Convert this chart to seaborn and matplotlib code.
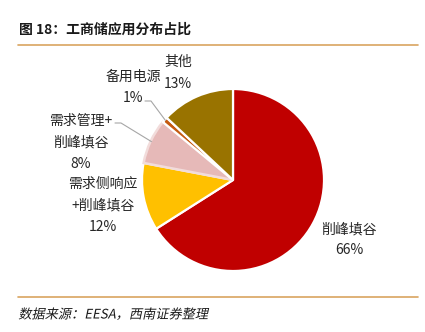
import numpy as np
import matplotlib
matplotlib.use("Agg")
import matplotlib.pyplot as plt
from matplotlib.lines import Line2D
from matplotlib import patheffects
from matplotlib.transforms import Affine2D
import seaborn as sns

sns.set_theme(style="white")
plt.rcParams["font.family"] = ["Noto Sans CJK SC", "DejaVu Sans"]

# Data
categories = ["削峰填谷", "需求侧响应\n+削峰填谷", "需求管理+\n削峰填谷", "备用电源", "其他"]
shares = [66, 12, 8, 1, 13]
colors = ["#C00000", "#FFC000", "#E6B9B8", "#C55A11", "#997300"]

title = "图 18：工商储应用分布占比"
source = "数据来源：EESA，西南证券整理"

W, H = 425, 332
fig = plt.figure(figsize=(W / 100, H / 100), dpi=100)


def fx(x, y):
    return x / W, 1 - y / H


# Pie axes: centre (233, 180) px, radius 91 px
cx, cy, r = 233, 180, 91
ax = fig.add_axes([(cx - r) / W, (H - cy - r) / H, 2 * r / W, 2 * r / H])
wedges, _ = ax.pie(shares, colors=colors, startangle=90, counterclock=False,
                   radius=1.0,
                   wedgeprops=dict(edgecolor="white", linewidth=1.6))
wedges[2].set_edgecolor("#F2DCDB")
wedges[2].set_linewidth(1.8)
ax.set_xlim(-1, 1)
ax.set_ylim(-1, 1)
ax.set_aspect("equal")
ax.axis("off")

text_color = "#262626"
fs = 10

# label blocks: (centre x, first line y) in pixels
label_pos = {
    0: (349, 229),
    1: (103, 184),
    2: (81, 121),
    3: (133, 77),
    4: (178, 62),
}
line_gap = 21.5
for i, (cat, v) in enumerate(zip(categories, shares)):
    x0, y0 = label_pos[i]
    lines = cat.split("\n") + [f"{v}%"]
    for k, t in enumerate(lines):
        fig.text(*fx(x0, y0 + k * line_gap), t, ha="center", va="center",
                 fontsize=fs, color=text_color)


# leader lines from label to the wedge edge
def wedge_point(i, rr=1.0):
    start = 90 - 360 * sum(shares[:i]) / 100
    mid = start - 360 * shares[i] / 200
    a = np.deg2rad(mid)
    return cx + rr * r * np.cos(a), cy - rr * r * np.sin(a)


leaders = {3: [(145, 101), (151, 101)], 2: [(115, 123), (121, 123)]}
for i, pts in leaders.items():
    ex, ey = wedge_point(i, 0.99)
    pts = pts + [(ex, ey)]
    xs = [p[0] / W for p in pts]
    ys = [1 - p[1] / H for p in pts]
    fig.add_artist(Line2D(xs, ys, color="#A6A6A6", lw=0.8,
                          transform=fig.transFigure))

# header and footer rules
rule_color = "#D9A460"
fig.add_artist(Line2D([18 / W, 418 / W], [1 - 45 / H] * 2, color=rule_color,
                      lw=1.2, transform=fig.transFigure))
fig.add_artist(Line2D([18 / W, 418 / W], [1 - 297 / H] * 2, color=rule_color,
                      lw=1.2, transform=fig.transFigure))

fig.text(*fx(19, 30), title, ha="left", va="center", fontsize=10,
         fontweight="bold", color="#1a1a1a")


class Oblique(patheffects.AbstractPathEffect):
    """Slants glyph outlines about a fixed baseline."""

    def __init__(self, x0, y0, deg=12):
        super().__init__()
        self.x0, self.y0, self.deg = x0, y0, deg

    def draw_path(self, renderer, gc, tpath, affine, rgbFace=None):
        sk = (Affine2D().translate(-self.x0, -self.y0)
              .skew_deg(self.deg, 0).translate(self.x0, self.y0))
        renderer.draw_path(gc, tpath, affine + sk, rgbFace)


src = fig.text(*fx(19, 315), source, ha="left", va="center", fontsize=9.5,
               color="#1a1a1a")
src.set_path_effects([Oblique(19, H - 315, 12)])

fig.savefig("out.png", dpi=100)
